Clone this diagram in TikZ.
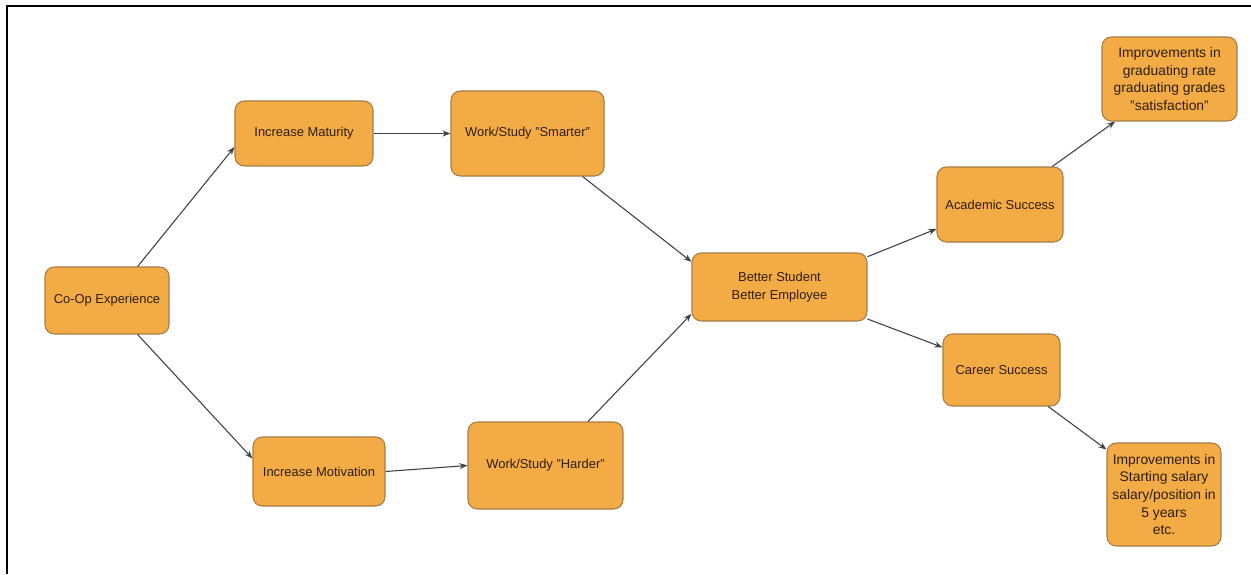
\documentclass[tikz,border=0pt]{standalone}
\usepackage{fontspec}
\setmainfont{Liberation Sans}
\usetikzlibrary{arrows.meta}
\definecolor{boxfill}{HTML}{F2AB45}
\definecolor{boxline}{HTML}{A87C44}
\definecolor{boxtext}{HTML}{2E1F0E}
\definecolor{arrowc}{HTML}{3F4046}
\tikzset{
  box/.style={draw=boxline, line width=0.8pt, fill=boxfill, rounded corners=7pt,
    text=boxtext, align=center, inner sep=0pt,
    font=\fontsize{9.7}{13}\selectfont},
  bigtext/.style={font=\fontsize{10.4}{13.2}\selectfont},
  conn/.style={draw=arrowc, line width=0.8pt, -{Stealth[length=6pt,width=4.5pt]}},
  frame/.style={line width=1.5pt, draw=black}
}
\begin{document}
\begin{tikzpicture}[x=0.75pt,y=-0.75pt]
\useasboundingbox (0,0) rectangle (1251,574);
\coordinate (fa) at (7,574);
\coordinate (fb) at (7,6);
\coordinate (fc) at (1251,6);
\draw[frame] (fa) -- (fb) -- (fc);

\node[box, minimum width=124*0.75pt, minimum height=67*0.75pt] (coop) at (107,300.5) {Co-Op Experience};
\node[box, minimum width=138*0.75pt, minimum height=65*0.75pt] (mat) at (304,133.5) {Increase Maturity};
\node[box, minimum width=153*0.75pt, minimum height=85*0.75pt] (smart) at (527.5,133.5) {Work/Study "Smarter"};
\node[box, minimum width=132*0.75pt, minimum height=69*0.75pt] (mot) at (319,471.5) {Increase Motivation};
\node[box, minimum width=155*0.75pt, minimum height=87*0.75pt] (hard) at (545.5,465.5) {Work/Study "Harder"};
\node[box, minimum width=175*0.75pt, minimum height=68*0.75pt] (better) at (779.5,287) {Better Student\\Better Employee};
\node[box, minimum width=126*0.75pt, minimum height=75*0.75pt] (acad) at (1000,204.5) {Academic Success};
\node[box, minimum width=117*0.75pt, minimum height=72*0.75pt] (career) at (1001.5,370) {Career Success};
\node[box, bigtext, minimum width=135*0.75pt, minimum height=84*0.75pt] (imp1) at (1169.5,79) {Improvements in\\graduating rate\\graduating grades\\"satisfaction"};
\node[box, bigtext, minimum width=114*0.75pt, minimum height=103*0.75pt] (imp2) at (1164,494.5) {Improvements in\\Starting salary\\salary/position in\\5 years\\etc.};

\draw[conn] (coop.48) -- (mat.191);
\draw[conn] (coop.-48) -- (mot.169);
\draw[conn] (mat.east) -- (smart.west);
\draw[conn] (mot.east) -- (hard.west);
\draw[conn] (smart.-38) -- (better.164);
\draw[conn] (hard.46) -- (better.197);
\draw[conn] (better.19) -- (acad.201);
\draw[conn] (better.-20) -- (career.159);
\draw[conn] (acad.36) -- (imp1.218);
\draw[conn] (career.-38) -- (imp2.142);
\end{tikzpicture}
\end{document}
